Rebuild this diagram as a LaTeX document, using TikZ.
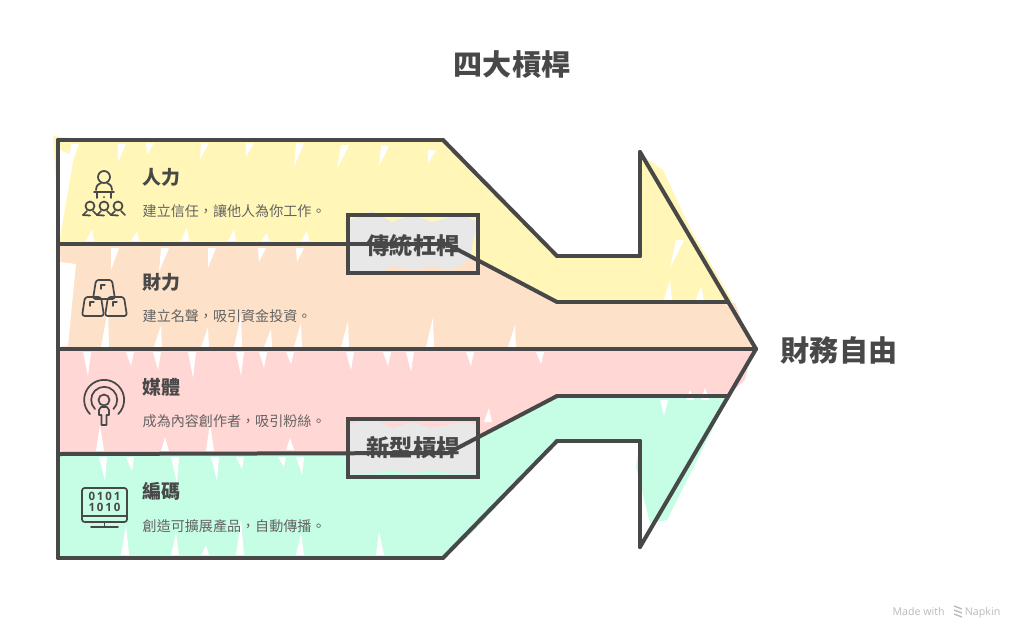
\documentclass[tikz,border=0pt]{standalone}
\usepackage{fontspec}
\setmainfont{Noto Sans CJK TC}
\newfontfamily\latinfont{Open Sans}
\definecolor{ink}{HTML}{484848}
\definecolor{yellowband}{HTML}{FFF6B8}
\definecolor{orangeband}{HTML}{FDE1C8}
\definecolor{pinkband}{HTML}{FFD7D5}
\definecolor{greenband}{HTML}{C6FDE5}
\definecolor{boxgray}{HTML}{E8E8E8}
\tikzset{
  outline/.style={draw=ink,line width=3pt,line cap=round,line join=round},
  iconline/.style={draw=ink,line width=1.3pt,line cap=round,line join=round},
  heading/.style={anchor=west,text=ink,font=\bfseries\fontsize{14.2}{16}\selectfont},
  blurb/.style={anchor=west,text=ink!85,font=\fontsize{10.55}{12}\selectfont},
  bigword/.style={text=ink,font=\bfseries\fontsize{21.8}{24}\selectfont},
  boxword/.style={text=ink,font=\bfseries\fontsize{17.4}{20}\selectfont},
}
\newcommand{\slits}[2]{\foreach \sx/\sy/\slen/\slean in {#2}{\fill[#1] (\sx-4,\sy) -- (\sx+4,\sy) -- (\sx+\slean,\sy+\slen) -- cycle;}}
\begin{document}
\begin{tikzpicture}[x=0.75pt,y=-0.75pt]
\useasboundingbox (0,0) rectangle (1024,640);
\coordinate (tl) at (58,140);
\coordinate (ts) at (443,140);
\coordinate (tn) at (557,256);
\coordinate (tb) at (640,256);
\coordinate (tt) at (640,152);
\coordinate (tip) at (756,349);
\coordinate (bl) at (58,558);
\coordinate (bs) at (443,558);
\coordinate (bn) at (557,441);
\coordinate (bb) at (640,441);
\coordinate (bt) at (640,547);
\coordinate (ml) at (58,349);
\coordinate (ul) at (58,244);
\coordinate (uk) at (447,244);
\coordinate (un) at (557,302);
\coordinate (ue) at (728,302);
\coordinate (ll) at (58,454);
\coordinate (lk) at (448,453);
\coordinate (ln) at (557,396);
\coordinate (le) at (728,396);

% bands
\fill[yellowband] (53,136) -- (90,140) -- (443,142) -- (540,240) -- (557,256) -- (640,256) -- (640,154) -- (663,170) -- (690,228) -- (733,302) -- (557,302) -- (447,244) -- (60,245) -- cycle;
\fill[orangeband] (60,243) -- (447,244) -- (557,300) -- (735,303) -- (752,347) -- (62,348) -- cycle;
\fill[pinkband] (60,351) -- (752,351) -- (745,380) -- (727,396) -- (557,396) -- (448,453) -- (60,453) -- cycle;
\fill[greenband] (60,455) -- (448,453) -- (557,398) -- (727,398) -- (717,420) -- (667,520) -- (650,523) -- (636,467) -- (640,441) -- (557,441) -- (470,535) -- (443,558) -- (60,558) -- cycle;

% white slits
\fill[white] (60,150) -- (74,156) -- (60,238) -- cycle;
\fill[white] (60,262) -- (76,264) -- (68,346) -- (60,346) -- cycle;
\slits{white}{75/144/32/-8,122/144/18/-4,150/143/12/-3,205/143/16/-5,250/143/14/-4,300/143/24/-6,345/145/24/-8,385/146/20/-6,432/150/14/-4,
  515/205/-16/-2,540/240/-10/-2,680/240/28/-10,668/300/-20/2,700/300/-14/1,
  90/241/-12/2,135/241/-10/2,185/241/-14/2,232/241/-12/2,265/241/-8/2,305/241/-10/2,
  115/248/22/-4,165/248/24/-6,212/248/20/-4,262/248/14/-3,300/248/14/-3,
  105/347/-38/3,158/347/-22/3,205/347/-20/3,238/347/-32/3,268/347/-18/3,298/347/-24/3,345/347/-26/3,430/347/-30/3,512/347/-22/3,
  87/352/24/1,130/352/14/1,157/352/18/1,192/352/26/1,240/352/24/1,263/352/16/1,290/352/12/1,350/352/18/1,387/352/14/1,410/352/20/1,470/352/14/1,540/352/12/1,
  100/451/-26/0,165/451/-14/0,210/451/-28/0,290/450/-12/0,
  103/457/24/2,130/457/14/2,175/457/26/2,215/457/24/2,240/457/12/2,282/457/10/2,300/457/18/2,
  125/555/-30/1,175/555/-22/1,205/555/-10/1,240/555/-36/1,300/555/-22/1,380/555/-24/-1,
  488/422/-14/1,664/400/16/0,690/400/-10/0,705/400/-12/0}

% boxes
\fill[boxgray] (345,222) -- (372,211) -- (392,222) -- (412,215) -- (432,222) -- (462,214) -- (477,222) -- (470,258) -- (452,270) -- (432,266) -- (412,270) -- (392,266) -- (372,275) -- (350,270) -- cycle;
\fill[boxgray] (350,424) -- (372,418) -- (392,428) -- (412,422) -- (432,428) -- (462,422) -- (476,424) -- (477,474) -- (452,474) -- (432,470) -- (412,474) -- (392,470) -- (372,474) -- (350,474) -- cycle;
\node[draw=ink,line width=3pt,minimum width=97.5pt,minimum height=43.5pt,inner sep=0pt] (tradbox) at (413,244){};
\node[draw=ink,line width=3pt,minimum width=97.5pt,minimum height=43.5pt,inner sep=0pt] (newbox) at (413,447.5){};

% outline
\path [outline] (tl) edge (ts);
\path [outline] (ts) edge (tn);
\path [outline] (tn) edge (tb);
\path [outline] (tb) edge (tt);
\path [outline] (tt) edge (tip);
\path [outline] (bl) edge (bs);
\path [outline] (bs) edge (bn);
\path [outline] (bn) edge (bb);
\path [outline] (bb) edge (bt);
\path [outline] (bt) edge (tip);
\path [outline] (tl) edge (bl);
\path [outline] (ml) edge (tip);
%%%%%%%%
\path [outline] (ul) edge (uk);
\path [outline] (uk) edge (un);
\path [outline] (un) edge (ue);
\path [outline] (ll) edge (lk);
\path [outline] (lk) edge (ln);
\path [outline] (ln) edge (le);

% texts
\node[bigword] (title) at (512,65){四大槓桿};
\node[bigword] (goal) at (839,350){財務自由};
\node[boxword] (tradword) at (413,246){傳統杠桿};
\node[boxword] (newword) at (413,448){新型槓桿};
\node[heading] (head1) at (138,177){人力};
\node[blurb] (text1) at (138,211){建立信任，讓他人為你工作。};
\node[heading] (head2) at (138,282){財力};
\node[blurb] (text2) at (138,316){建立名聲，吸引資金投資。};
\node[heading] (head3) at (138,387){媒體};
\node[blurb] (text3) at (138,421){成為內容創作者，吸引粉絲。};
\node[heading] (head4) at (138,491){編碼};
\node[blurb] (text4) at (138,526){創造可擴展產品，自動傳播。};
\node[anchor=east,text=black!27,font=\latinfont\fontsize{8}{10}\selectfont] (credit) at (1005,613){Made with \hspace{11pt} Napkin};

% icon people
\draw[iconline] (104,177) circle (6);
\draw[iconline] (96,190) .. controls (96,184) and (100,184) .. (101,183);
\draw[iconline] (112,190) .. controls (112,184) and (108,184) .. (107,183);
\draw[iconline] (94,192) -- (114,192);
\draw[iconline] (97,192) -- (97,198);
\draw[iconline] (111,192) -- (111,198);
\foreach \hx in {90,104,118}{
  \draw[iconline] (\hx,206) circle (4.5);
  \draw[iconline] (\hx-7,215) -- (\hx-3,211);
  \draw[iconline] (\hx+7,215) -- (\hx+3,211);
  \draw[iconline] (\hx-7,215) -- (\hx,215.5);
}
\fill[ink] (104,197) circle (1);

% icon bars
\foreach \bx/\by in {104/280,93/297,116/297}{
  \draw[iconline,rounded corners=2pt] (\bx-8,\by) -- (\bx+8,\by) -- (\bx+11,\by+19) -- (\bx-11,\by+19) -- cycle;
  \draw[iconline,line width=1pt] (\bx-3,\by+9) -- (\bx-3,\by+5) -- (\bx+1,\by+5);
}

% icon podcast
\draw[iconline] (90,414) arc (135:405:20);
\draw[iconline] (95,409) arc (135:405:13);
\draw[iconline] (104,400) circle (5.5);
\draw[iconline] (99,415) -- (99,410) -- (101,407) -- (107,407) -- (109,410) -- (109,415) -- (106.5,415) -- (106.5,425) -- (101.5,425) -- (101.5,415) -- cycle;

% icon screen
\draw[iconline,rounded corners=2pt] (82,488) rectangle (127,522);
\draw[iconline] (82,516) -- (127,516);
\draw[iconline] (104.5,522) -- (104.5,526);
\draw[iconline] (91,527) -- (118,527);
\node[text=ink,font=\latinfont\bfseries\fontsize{8.6}{10}\selectfont,inner sep=0pt,align=center] (code) at (104.5,502){0\,1\,0\,1\\[-1.5pt]1\,0\,1\,0};

% credit logo
\foreach \ly in {608,612,616}{
  \draw[draw=black!27,line width=1pt] (954,\ly-2) -- (962,\ly+1);
}
\end{tikzpicture}
\end{document}
